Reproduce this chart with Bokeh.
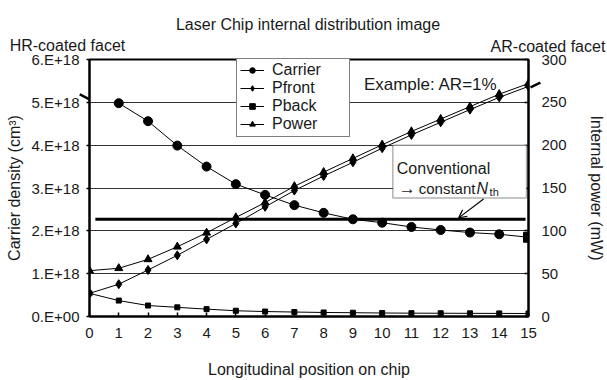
from bokeh.plotting import figure
from bokeh.models import (Range1d, LinearAxis, FixedTicker, CustomJSTickFormatter, Legend,
                          LegendItem, Label, Arrow, NormalHead, OpenHead, BoxAnnotation)
from bokeh.embed import file_html
from bokeh.resources import INLINE

# ---- data -------------------------------------------------------------
position = list(range(16))                    # longitudinal position on chip
carrier_pos = list(range(1, 16))
carrier = [4.98e18, 4.56e18, 3.99e18, 3.50e18, 3.09e18, 2.84e18, 2.60e18, 2.42e18,
           2.27e18, 2.19e18, 2.09e18, 2.02e18, 1.96e18, 1.92e18, 1.85e18]   # cm^-3
pfront = [27, 37.7, 54.3, 71.4, 90, 108.6, 128, 147, 164, 180, 196.5, 212, 226.7,
          241.5, 255.8, 268.6]                                               # mW
pback = [27, 18.6, 12.8, 10.7, 8.6, 6.7, 5.8, 5.2, 4.7, 4.4, 4.1, 3.9, 3.8, 3.7,
         3.6, 3.5]                                                           # mW
power = [53.5, 56.3, 66.7, 81.4, 97.7, 115.6, 133, 152, 168.5, 184.5, 200.5, 216,
         230.5, 245, 259.5, 272]                                             # mW
nth_level = 2.27e18           # conventional constant threshold density
nth_span = [0.2, 14.9]

x_ticks = list(range(16))
left_ticks = [0, 1e18, 2e18, 3e18, 4e18, 5e18, 6e18]
right_ticks = [0, 50, 100, 150, 200, 250, 300]

# ---- layout -----------------------------------------------------------
W, H = 607, 380
LEFT, RIGHT, TOP, BOTTOM = 89, 78, 59, 63
FW, FH = W - LEFT - RIGHT, H - TOP - BOTTOM
XMAX, YMAX = 15, 6e18
FONT = "Liberation Sans"


def dx(px):
    """canvas x pixel -> data x"""
    return (px - LEFT) / FW * XMAX


def dy(py):
    """canvas y pixel -> carrier-density units"""
    return (H - BOTTOM - py) / FH * YMAX


p = figure(width=W, height=H, output_backend="svg", toolbar_location=None,
           x_range=Range1d(0, XMAX), y_range=Range1d(0, YMAX),
           min_border_left=LEFT, min_border_right=RIGHT,
           min_border_top=TOP, min_border_bottom=BOTTOM)
p.extra_y_ranges = {"power": Range1d(0, 300)}
p.background_fill_color = "white"
p.border_fill_color = "white"
p.outline_line_color = "black"
p.outline_line_width = 2

# axes
p.xaxis.ticker = FixedTicker(ticks=x_ticks)
p.xaxis.axis_label = "Longitudinal position on chip"
p.xaxis.major_tick_in = 4
p.xaxis.major_tick_out = 0
p.xaxis.major_label_standoff = 11
p.xaxis.axis_label_standoff = 20

p.yaxis.ticker = FixedTicker(ticks=left_ticks)
p.yaxis.formatter = CustomJSTickFormatter(
    code="return tick == 0 ? '0.E+00' : Math.round(tick / 1e18) + '.E+18';")
p.yaxis.axis_label = "Carrier density (cm³)"
p.yaxis.major_tick_in = 0
p.yaxis.major_tick_out = 3
p.yaxis.major_label_standoff = 7
p.yaxis.axis_label_standoff = 6

right = LinearAxis(y_range_name="power", ticker=FixedTicker(ticks=right_ticks),
                   axis_label="Internal power (mW)")
right.major_tick_in = 4
right.major_tick_out = 0
right.major_label_standoff = 13
right.axis_label_standoff = 18
p.add_layout(right, "right")

for ax in p.axis:
    ax.axis_line_width = 2
    ax.axis_line_color = "black"
    ax.major_tick_line_color = "black"
    ax.major_tick_line_width = 1.5
    ax.minor_tick_line_color = None
    ax.major_label_text_font = FONT
    ax.major_label_text_font_size = "15px"
    ax.major_label_text_color = "#1a1a1a"
    ax.axis_label_text_font = FONT
    ax.axis_label_text_font_size = "16px"
    ax.axis_label_text_font_style = "normal"
    ax.axis_label_text_color = "#1a1a1a"

p.xgrid.grid_line_color = None
p.ygrid.ticker = FixedTicker(ticks=left_ticks[1:-1])
p.ygrid.grid_line_color = "#333333"
p.ygrid.grid_line_width = 1

# ---- series -----------------------------------------------------------
l_car = p.line(carrier_pos, carrier, line_color="black", line_width=1)
s_car = p.scatter(carrier_pos, carrier, marker="circle", size=9, color="black")
p.scatter(carrier_pos[-1:], carrier[-1:], marker="square", size=10, color="black")

l_pf = p.line(position, pfront, y_range_name="power", line_color="black", line_width=1)
s_pf = p.scatter(position, pfront, y_range_name="power", marker="diamond", size=9,
                 color="black")

l_pb = p.line(position, pback, y_range_name="power", line_color="black", line_width=1)
s_pb = p.scatter(position, pback, y_range_name="power", marker="square", size=5,
                 color="black")

l_pw = p.line(position, power, y_range_name="power", line_color="black", line_width=1)
s_pw = p.scatter(position, power, y_range_name="power", marker="triangle", size=8,
                 color="black")

# conventional constant threshold carrier density
p.line(nth_span, [nth_level, nth_level], line_color="black", line_width=3)

legend = Legend(items=[LegendItem(label="Carrier", renderers=[l_car, s_car]),
                       LegendItem(label="Pfront", renderers=[l_pf, s_pf]),
                       LegendItem(label="Pback", renderers=[l_pb, s_pb]),
                       LegendItem(label="Power", renderers=[l_pw, s_pw])],
                location=(147, 179), orientation="vertical")
legend.padding = 3
legend.spacing = 0
legend.margin = 0
legend.glyph_width = 24
legend.glyph_height = 14
legend.label_height = 14
legend.label_standoff = 8
legend.label_width = 74
legend.label_text_font = FONT
legend.label_text_font_size = "16px"
legend.label_text_color = "#1a1a1a"
legend.border_line_color = "black"
legend.border_line_width = 1.5
legend.background_fill_color = "white"
legend.background_fill_alpha = 1
p.add_layout(legend, "center")

# ---- annotations ------------------------------------------------------
box = BoxAnnotation(left=dx(393), right=dx(527), top=dy(145), bottom=dy(198),
                    fill_color="white", fill_alpha=1, line_color="black", line_width=1.5)
p.add_layout(box)


def text(txt, px, py, size="16px", align="left", style="normal", place="center"):
    # annotations living in a side panel are painted without the frame clip
    p.add_layout(Label(x=dx(px), y=dy(py), text=txt, text_font=FONT, text_font_size=size,
                       text_align=align, text_baseline="alphabetic",
                       text_font_style=style, text_color="#1a1a1a"), place)


text("Laser Chip internal distribution image", 308, 24, align="center", place="above")
text("HR-coated facet", 9, 45, place="above")
text("AR-coated facet", 606, 46, align="right", place="above")
text("Example: AR=1%", 364, 84, size="17px")
text("Conventional", 397, 168)
text("→", 399, 189, size="17px")
text("constant", 419, 189, size="15px")
text("N", 477, 189, style="italic")
text("th", 490, 192, size="11px")


def pointer(x0, y0, x1, y1, width, head, place="center"):
    p.add_layout(Arrow(x_start=dx(x0), y_start=dy(y0), x_end=dx(x1), y_end=dy(y1),
                       line_width=width, line_color="black", end=head), place)


pointer(9, 58, 89, 99, 2.5, NormalHead(size=11, fill_color="black", line_color="black"),
        place="above")
pointer(607, 50, 531, 87, 2.5, NormalHead(size=11, fill_color="black", line_color="black"),
        place="above")
pointer(484, 199, 459, 218, 1.2, OpenHead(size=8, line_color="black", line_width=1.2))

open("out.html", "w").write(file_html(p, INLINE))
